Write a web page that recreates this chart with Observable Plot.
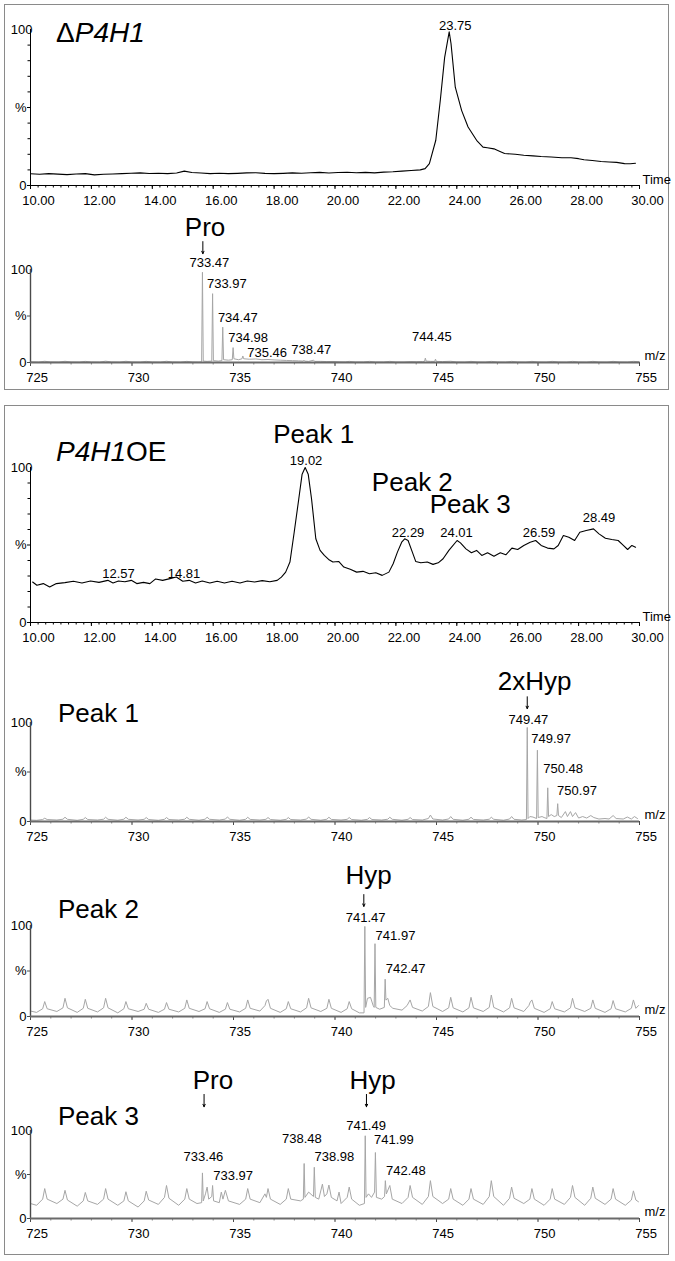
<!DOCTYPE html>
<html><head><meta charset="utf-8">
<script src="https://cdn.jsdelivr.net/npm/d3@7"></script>
<script src="https://cdn.jsdelivr.net/npm/@observablehq/plot@0.6"></script>
<style>
html,body{margin:0;padding:0;background:#fff;}
#root{position:relative;width:675px;height:1261px;overflow:hidden;font-family:"Liberation Sans",Arial,Helvetica,sans-serif;color:#000;}
.box{position:absolute;border:1.5px solid #8a8a8a;box-sizing:border-box;}
.chart{position:absolute;left:0;}
.title{position:absolute;font-size:28px;line-height:1;white-space:nowrap;}
.plabel{position:absolute;font-size:26px;line-height:1;white-space:nowrap;}
</style></head><body><div id="root"></div>
<script>
// ---------- DATA ----------
const chromTicks = [10, 12, 14, 16, 18, 20, 22, 24, 26, 28, 30];
const mzTicks = [725, 730, 735, 740, 745, 750, 755];

// ΔP4H1 chromatogram [time, %]
const chromA = [[10.0,7.5],[10.3,7.2],[10.6,7.6],[10.9,7.3],[11.2,7.0],[11.5,7.4],[11.8,7.6],[12.1,6.8],[12.4,7.2],[12.7,7.4],
[13.0,7.6],[13.3,7.9],[13.6,8.1],[13.9,7.7],[14.2,7.9],[14.5,7.6],[14.8,8.0],[15.05,9.2],[15.3,8.3],[15.6,8.0],
[15.9,7.6],[16.2,7.9],[16.5,7.6],[16.8,7.8],[17.1,8.1],[17.4,8.2],[17.7,7.8],[18.0,7.6],[18.3,7.8],[18.6,8.1],
[18.9,7.9],[19.2,8.2],[19.5,8.4],[19.8,8.0],[20.1,8.3],[20.4,8.5],[20.7,8.2],[21.0,8.4],[21.3,8.1],[21.6,8.6],
[21.9,8.8],[22.2,9.2],[22.5,9.6],[22.8,10.0],[22.96,10.8],[23.1,14],[23.31,29],[23.46,55],[23.6,82],[23.75,98.5],
[23.81,91],[23.95,63],[24.16,48],[24.37,37.5],[24.65,29],[24.86,24.6],[25.0,24.2],[25.22,23.5],[25.4,22.0],[25.57,20.5],
[25.92,20.0],[26.2,19.4],[26.5,19.0],[26.77,18.6],[27.1,18.3],[27.45,17.8],[27.75,17.8],[28.0,17.2],[28.18,16.5],[28.45,16.0],
[28.74,15.4],[29.0,15.1],[29.25,14.8],[29.51,14.0],[29.7,13.9],[29.87,14.3]];

// P4H1OE chromatogram [time, %]
const chromB = [[10.07,26.1],[10.21,24.0],[10.42,25.1],[10.63,22.9],[10.85,25.1],[11.13,25.7],[11.41,26.6],[11.69,25.5],[11.97,26.8],[12.25,25.9],
[12.54,27.2],[12.71,25.5],[12.89,26.8],[13.10,26.3],[13.31,27.2],[13.49,25.1],[13.71,25.9],[13.92,25.1],[14.11,28.1],[14.34,27.2],
[14.58,28.3],[14.79,29.3],[15.00,26.6],[15.21,27.2],[15.42,25.5],[15.64,26.8],[15.89,25.5],[16.13,26.6],[16.37,25.5],[16.62,26.6],
[16.88,25.5],[17.12,26.8],[17.36,26.1],[17.61,27.0],[17.86,26.3],[18.10,27.2],[18.24,29.3],[18.38,32.5],[18.52,39.0],[18.66,58.2],
[18.81,79.7],[18.92,95.7],[19.02,100],[19.12,95.7],[19.23,79.7],[19.37,54.0],[19.51,46.5],[19.65,43.3],[19.79,40.7],[19.93,39.0],
[20.12,39.4],[20.29,35.8],[20.50,34.3],[20.71,32.5],[20.92,33.0],[21.13,31.5],[21.34,32.1],[21.55,30.4],[21.77,32.5],[21.91,37.9],
[22.05,45.4],[22.19,51.8],[22.29,54.0],[22.40,52.9],[22.54,45.4],[22.65,39.4],[22.82,38.5],[23.03,39.0],[23.22,37.5],[23.39,38.5],
[23.55,41.1],[23.74,46.5],[24.01,52.9],[24.12,51.4],[24.30,47.5],[24.48,45.0],[24.65,46.5],[24.82,43.3],[25.01,45.0],[25.22,42.8],
[25.43,45.0],[25.61,43.7],[25.81,48.0],[26.00,47.1],[26.20,49.7],[26.41,51.8],[26.59,52.9],[26.77,49.7],[26.98,48.0],[27.19,47.5],
[27.33,49.7],[27.50,56.1],[27.68,55.0],[27.87,52.9],[28.04,58.2],[28.25,59.3],[28.49,60.4],[28.67,57.2],[28.88,54.4],[29.09,53.5],
[29.30,52.9],[29.47,49.7],[29.61,47.1],[29.75,49.7],[29.87,48.6]];

// ΔP4H1 mass spectrum [m/z, %]
const specA = [[725.0,0.8],[725.4,0.5],[725.7,1.3],[726.0,0.6],[726.4,0.5],[726.7,1.3],[727.0,0.6],[727.4,0.5],[727.7,1.2],[728.0,0.6],
[728.4,0.5],[728.7,1.4],[729.0,0.6],[729.4,0.5],[729.7,1.3],[730.0,0.6],[730.4,0.5],[730.7,1.2],[731.0,0.6],[731.4,0.5],
[731.7,1.3],[732.0,0.6],[732.4,0.5],[732.7,1.2],[733.0,0.6],[733.3,0.5],[733.43,0.8],[733.47,97],[733.51,1.5],[733.7,1.2],
[733.93,1.5],[733.97,74],[734.01,2],[734.25,1.5],[734.43,2],[734.47,38],[734.51,3],[734.75,2.5],[734.94,3],[734.98,16],
[735.02,4],[735.25,3],[735.42,4],[735.46,7],[735.5,4],[735.8,3.5],[736.1,3.8],[736.4,3],[736.7,3.2],[737.0,2.8],
[737.3,2.5],[737.6,2.2],[737.9,2],[738.2,1.8],[738.43,1.5],[738.47,2.5],[738.51,1.5],[738.7,1.2],[738.95,2.5],[739.0,1.2],
[739.3,1.2],[739.6,1],[739.9,1.1],[740.2,0.8],[740.5,0.7],[740.7,1.2],[741.0,0.6],[741.4,0.6],[741.7,1.2],[742.0,0.6],
[742.4,0.6],[742.7,1.2],[743.0,0.6],[743.4,0.6],[743.7,1.0],[744.0,0.8],[744.3,1],[744.41,1.2],[744.45,4.7],[744.49,1.5],
[744.7,1.2],[744.91,1.2],[744.95,3.6],[744.99,1.2],[745.3,1],[745.7,1.3],[746.0,0.6],[746.4,0.5],[746.7,1.2],[747.0,0.6],
[747.4,0.5],[747.7,1.2],[748.0,0.6],[748.4,0.5],[748.7,1.2],[749.0,0.6],[749.4,0.5],[749.7,1.2],[750.0,0.6],[750.4,0.5],
[750.7,1.2],[751.0,0.6],[751.4,0.5],[751.7,1.2],[752.0,0.6],[752.4,0.5],[752.7,1.2],[753.0,0.6],[753.4,0.5],[753.7,1.2],
[754.0,0.6],[754.4,0.5],[754.7,1.2],[755.0,0.8]];

// Peak 1 mass spectrum [m/z, %]
const specP1 = [[725.0,1.5],[725.3,1.2],[725.6,2],[725.7,3.3],[725.82,2],[726.3,1.5],[726.6,2.3],[726.7,4.3],[726.82,2.2],
[727.3,1.2],[727.6,2.2],[727.7,4.0],[727.82,2],[728.3,1.5],[728.6,2.3],[728.7,4.3],[728.82,2.2],[729.3,1.3],[729.6,2.3],[729.7,4.3],[729.82,2.2],
[730.3,1.5],[730.6,2.2],[730.7,4.0],[730.82,2],[731.3,1.2],[731.6,2.2],[731.7,4.0],[731.82,2],[732.3,1.5],[732.6,2.3],[732.7,4.3],[732.82,2.2],
[733.3,1.3],[733.6,2.3],[733.7,4.3],[733.82,2.2],[734.3,1.5],[734.6,2.4],[734.7,4.6],[734.82,2.2],[735.3,1.3],[735.6,2.2],[735.7,4.3],[735.82,2.1],
[736.3,1.5],[736.6,2.2],[736.7,4.0],[736.82,2],[737.3,1.3],[737.6,2.2],[737.7,4.0],[737.82,2],[738.3,1.5],[738.6,2.4],[738.7,4.6],[738.82,2.2],
[739.3,1.3],[739.6,2.3],[739.7,4.3],[739.82,2.1],[740.3,1.5],[740.6,2.2],[740.7,4.0],[740.82,2],[741.3,1.3],[741.6,2.2],[741.7,4.0],[741.82,2],
[742.3,1.5],[742.6,2.3],[742.7,4.3],[742.82,2.2],[743.3,1.3],[743.6,2.2],[743.7,4.0],[743.82,2],[744.3,1.5],[744.6,3],[744.7,6.5],[744.82,2.5],
[745.3,1.5],[745.6,2.5],[745.7,5],[745.82,2.2],[746.3,1.3],[746.6,2.3],[746.7,4.3],[746.82,2.1],[747.3,1.5],[747.6,2.3],[747.7,4.3],[747.82,2.2],
[748.3,1.3],[748.6,2.5],[748.7,5],[748.82,2.2],[749.2,1.5],[749.43,2],[749.47,95],[749.51,3],[749.6,5],[749.75,4.5],[749.93,3],[749.97,72],
[750.01,4],[750.2,5],[750.3,4],[750.44,3],[750.48,34],[750.52,5],[750.65,7],[750.8,5],[750.93,6],[750.97,18],[751.01,6],[751.15,4],
[751.35,10],[751.45,5],[751.6,10],[751.7,5],[751.85,9],[752.0,3.5],[752.2,5],[752.4,3.5],[752.6,6],[752.75,4],[753.0,2.5],[753.3,3],
[753.5,2.5],[753.7,6],[753.85,3],[754.2,2.5],[754.4,4.5],[754.6,2.5],[754.75,5],[754.9,3]];

// Peak 2 mass spectrum [m/z, %]
const specP2 = [[725.0,6],[725.3,4.5],[725.6,8.5],[725.7,16.4],[725.82,8.5],[726.3,5.5],[726.6,9.5],[726.7,20],[726.82,9.5],
[727.3,4.5],[727.6,9],[727.7,18.9],[727.82,9],[728.3,5],[728.6,9.5],[728.7,20],[728.82,9.5],[729.3,4],[729.6,8.5],[729.7,16.4],[729.82,8.5],
[730.3,5.5],[730.6,8],[730.7,14.5],[730.82,8],[731.3,4.5],[731.6,8],[731.7,15.3],[731.82,8],[732.3,5],[732.6,9],[732.7,18.2],[732.82,9],
[733.3,5.5],[733.6,8.5],[733.7,16.4],[733.82,8.5],[734.3,4.5],[734.6,8],[734.7,15.3],[734.82,8],[735.3,5],[735.6,9],[735.7,18.2],[735.82,9],
[736.3,6],[736.55,12],[736.62,17],[736.7,18.9],[736.82,9],[737.3,4.5],[737.6,8.5],[737.7,16.4],[737.82,8.5],[738.3,5],[738.6,9.5],[738.7,20],[738.82,9.5],
[739.3,5.5],[739.6,9],[739.7,18.9],[739.82,9],[740.3,4.5],[740.6,8.5],[740.7,16.4],[740.82,8.5],[741.2,4],[741.43,4],[741.47,99],[741.51,10],
[741.6,20],[741.75,21],[741.88,12],[741.93,10],[741.97,80],[742.01,10],[742.2,8],[742.43,10],[742.47,41],[742.51,18],[742.6,20],[742.7,12],[742.85,9],
[743.3,7],[743.55,12],[743.7,18.2],[743.82,10],[744.3,6],[744.6,11],[744.7,26.2],[744.82,11],[745.3,5.5],[745.6,9.5],[745.7,21.1],[745.82,9.5],
[746.3,5],[746.6,9.5],[746.7,21.1],[746.82,9.5],[747.3,5.5],[747.6,10],[747.7,23.6],[747.82,10],[748.3,5],[748.6,9.5],[748.7,20],[748.82,9.5],
[749.3,5.5],[749.55,12],[749.62,16],[749.7,18.2],[749.82,9],[750.3,4.5],[750.6,8.5],[750.7,16.4],[750.82,8.5],[751.3,5],[751.6,9.5],[751.7,20],[751.82,9.5],
[752.3,5.5],[752.6,9],[752.7,18.2],[752.82,9],[753.3,4.5],[753.6,8.5],[753.7,17.5],[753.82,8.5],[754.3,5],[754.6,9],[754.7,18.2],[754.82,9],[754.95,12]];

// Peak 3 mass spectrum [m/z, %]
const specP3 = [[725.0,17],[725.3,15],[725.6,22],[725.7,34],[725.82,22],[726.3,17],[726.6,22],[726.7,32],[726.82,21],
[727.3,14],[727.6,20],[727.7,29.6],[727.82,20],[728.3,16],[728.6,22],[728.7,34],[728.82,22],[729.3,15],[729.6,20],[729.7,30.4],[729.82,20],
[730.3,13],[730.6,20],[730.7,31],[730.82,21],[731.3,16],[731.6,24],[731.7,37.5],[731.82,23],[732.3,15],[732.6,22],[732.7,34],[732.82,22],
[733.2,17],[733.43,18],[733.47,51.8],[733.51,20],[733.62,28],[733.7,35.7],[733.78,22],[733.93,25],[733.97,37.5],[734.02,20],
[734.3,18],[734.4,30],[734.48,22],[734.6,32],[734.75,20],[735.3,16],[735.6,22],[735.7,34],[735.82,22],
[736.3,18],[736.55,28],[736.62,24],[736.7,34],[736.82,22],[737.3,16],[737.6,22],[737.7,34],[737.82,22],
[738.3,20],[738.44,22],[738.48,62.5],[738.52,24],[738.7,30],[738.94,25],[738.98,58.2],[739.03,24],
[739.2,22],[739.38,39],[739.48,25],[739.6,28],[739.7,38],[739.82,24],[740.1,20],[740.2,30],[740.3,17],[740.6,24],[740.7,35.7],[740.82,22],
[741.2,15],[741.45,17],[741.49,94],[741.53,24],[741.65,28],[741.8,24],[741.95,30],[741.99,75],[742.04,24],
[742.3,22],[742.44,25],[742.48,43],[742.53,28],[742.7,37.5],[742.82,22],[743.3,17],[743.6,24],[743.7,37.5],[743.82,24],
[744.3,16],[744.6,25],[744.7,43],[744.82,25],[745.3,17],[745.6,22],[745.7,34],[745.82,22],[746.3,15],[746.6,22],[746.7,34],[746.82,22],
[747.3,16],[747.6,25],[747.7,43],[747.82,25],[748.3,15],[748.6,23],[748.7,35.7],[748.82,23],[749.3,17],[749.6,22],[749.7,34],[749.82,22],
[750.3,15],[750.6,22],[750.7,34],[750.82,22],[751.3,16],[751.6,24],[751.7,37.5],[751.82,24],[752.3,15],[752.6,23],[752.7,35.7],[752.82,23],
[753.3,16],[753.6,22],[753.7,34],[753.82,22],[754.3,15],[754.6,21],[754.7,31.4],[754.82,21],[754.95,19]];

// value labels: [text, x, y]
const labelsA = [["23.75",23.95,102.6]];
const labelsB = [["19.02",19.05,104.5],["22.29",22.40,58],["24.01",23.99,58],["26.59",26.70,58],["28.49",28.67,67.7],["12.57",12.89,31.4],["14.81",15.04,31.4]];
const bigB = [["Peak 1",19.30,121],["Peak 2",22.54,90.3],["Peak 3",24.44,76]];
const labelsSA = [["733.47",733.81,107.5],["733.97",734.67,85],["734.47",735.21,48.4],["734.98",735.72,27],["735.46",736.66,10.8],["738.47",738.83,14],["744.45",744.77,28]];
const bigSA = [["Pro",733.60,145]];
const arrowsSA = [[733.49,130,117]];
const labelsS1 = [["749.47",749.53,103],["749.97",750.65,83.5],["750.48",751.24,53],["750.97",751.92,31.3]];
const bigS1 = [["2xHyp",749.83,141.7]];
const arrowsS1 = [[749.47,126,114]];
const labelsS2 = [["741.47",741.51,108.5],["741.97",742.98,89],["742.47",743.48,52.4]];
const bigS2 = [["Hyp",741.66,154.9]];
const arrowsS2 = [[741.42,134,121]];
const labelsS3 = [["741.49",741.53,105.7],["741.99",742.90,89.4],["742.48",743.49,54.5],["738.48",738.37,90.5],["738.98",739.97,69.7],["733.46",733.52,69.7],["733.97",734.98,48.9]];
const bigS3 = [["Pro",733.99,156.6],["Hyp",741.85,156.6]];
const arrowsS3 = [[733.55,141,127],[741.55,141,127]];

// ---------- DRAW ----------
const FONT = '"Liberation Sans", Arial, Helvetica, sans-serif';
const root = document.getElementById("root");

function addBox(top, height) {
  const b = document.createElement("div");
  b.className = "box";
  Object.assign(b.style, {left: "4px", top: top + "px", width: "665px", height: height + "px"});
  root.appendChild(b);
}
addBox(4, 386);
addBox(405, 850);

function chart(cfg) {
  const chrom = cfg.kind === "chrom";
  const domain = chrom ? [10, 30] : [725, 755];
  const majorX = chrom ? chromTicks : mzTicks;
  const minorX = chrom ? d3.range(10, 30.001, 0.25) : d3.range(725, 755.001, 1);
  const axisColor = chrom ? "#000" : "#4a4a4a";
  const lbl = (cfg.labels || []).map(([text, x, y]) => ({text, x, y}));
  const big = (cfg.big || []).map(([text, x, y]) => ({text, x, y}));
  const arr = (cfg.arrows || []).map(([x, y1, y2]) => ({x, y1, y2}));
  const marks = [
    Plot.axisX({ticks: minorX, tickSize: 2.5, tickFormat: () => "", stroke: chrom ? "#000" : "#888", label: null}),
    Plot.axisX({ticks: majorX, tickSize: 4, tickFormat: () => "", stroke: axisColor, label: null}),
    Plot.axisX({ticks: majorX, tickSize: 0, tickPadding: 10.5, dx: chrom ? 8 : 6.7,
      tickFormat: chrom ? d => d.toFixed(2) : d => String(d), fontSize: 13, label: null}),
    Plot.axisY({ticks: [0, 50], tickSize: 3, tickFormat: () => "", stroke: axisColor, label: null}),
    chrom ? Plot.axisY({ticks: [10, 20, 30, 40, 60, 70, 80, 90], tickSize: 2.5, tickFormat: () => "", stroke: axisColor, label: null}) : null,
    Plot.axisY({ticks: [0, 50], tickSize: 0, tickPadding: 4, tickFormat: d => d === 50 ? "%" : "0", fontSize: 13, label: null}),
    Plot.axisY({ticks: [100], tickSize: 0, tickPadding: -2, tickFormat: () => "100", fontSize: 13, label: null}),
    Plot.line(cfg.series, {x: d => d[0], y: d => d[1], stroke: chrom ? "#000" : "#a6a6a6", strokeWidth: chrom ? 1.1 : 1}),
    Plot.ruleX([domain[0]], {stroke: axisColor, strokeWidth: chrom ? 1 : 1.4}),
    Plot.ruleY([0], {stroke: chrom ? "#000" : "#6a6a6a", strokeWidth: chrom ? 1 : 2}),
    Plot.text([chrom ? "Time" : "m/z"], {frameAnchor: "bottom-right", textAnchor: "start", dx: chrom ? 3 : 5, dy: chrom ? -2 : -3, fontSize: 13}),
    Plot.text(lbl, {x: "x", y: "y", text: "text", fontSize: 13}),
    Plot.text(big, {x: "x", y: "y", text: "text", fontSize: 26}),
    Plot.arrow(arr, {x: "x", y1: "y1", y2: "y2", stroke: "#000", strokeWidth: 1, headLength: 4, headAngle: 50})
  ].filter(Boolean);
  const svg = Plot.plot({
    width: 675, height: cfg.height,
    marginTop: cfg.mt, marginBottom: cfg.mb, marginLeft: 30, marginRight: 36,
    x: {domain, label: null}, y: {domain: [0, 100], label: null},
    style: {background: "transparent", overflow: "visible", fontFamily: FONT, fontSize: "13px", color: "#000"},
    marks
  });
  svg.classList.add("chart");
  svg.style.position = "absolute";
  svg.style.top = cfg.top + "px";
  svg.style.left = "0px";
  root.appendChild(svg);
}

chart({kind: "chrom", series: chromA, labels: labelsA, top: 0, height: 212, mt: 29, mb: 27});
chart({kind: "spec", series: specA, labels: labelsSA, big: bigSA, arrows: arrowsSA, top: 212, height: 173, mt: 57, mb: 23});
chart({kind: "chrom", series: chromB, labels: labelsB, big: bigB, top: 405, height: 245, mt: 62, mb: 28});
chart({kind: "spec", series: specP1, labels: labelsS1, big: bigS1, arrows: arrowsS1, top: 650, height: 195, mt: 72, mb: 24});
chart({kind: "spec", series: specP2, labels: labelsS2, big: bigS2, arrows: arrowsS2, top: 845, height: 200, mt: 80, mb: 29});
chart({kind: "spec", series: specP3, labels: labelsS3, big: bigS3, arrows: arrowsS3, top: 1045, height: 200, mt: 85, mb: 27});

function addText(cls, html, left, top) {
  const d = document.createElement("div");
  d.className = cls;
  d.innerHTML = html;
  Object.assign(d.style, {left: left + "px", top: top + "px"});
  root.appendChild(d);
}
addText("title", "\u0394<i>P4H1</i>", 56, 19);
addText("title", "<i>P4H1</i>OE", 56, 438);
addText("plabel", "Peak 1", 58, 700);
addText("plabel", "Peak 2", 58, 896);
addText("plabel", "Peak 3", 58, 1103);
</script></body></html>
